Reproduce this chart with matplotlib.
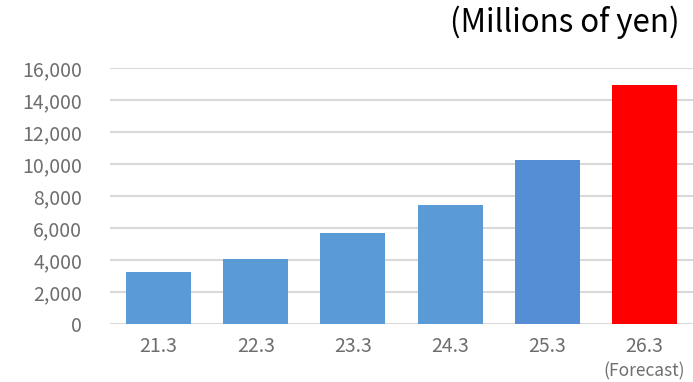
import matplotlib.pyplot as plt

categories = ["21.3", "22.3", "23.3", "24.3", "25.3", "26.3"]
values = [3250, 4050, 5700, 7450, 10250, 14950]
bar_colors = ["#5B9BD5", "#5B9BD5", "#5B9BD5", "#5B9BD5", "#558ED5", "#FF0000"]
y_ticks = [0, 2000, 4000, 6000, 8000, 10000, 12000, 14000, 16000]

plt.rcParams["font.family"] = ["Noto Sans CJK JP", "DejaVu Sans"]

fig = plt.figure(figsize=(6.93, 3.82), dpi=100)
ax = fig.add_axes([110 / 693, 1 - 324 / 382, 583 / 693, 256 / 382])

x = range(len(categories))
ax.bar(x, values, width=0.67, color=bar_colors, zorder=3)

ax.set_xlim(-0.5, len(categories) - 0.5)
ax.set_ylim(0, 16000)
ax.set_yticks(y_ticks)
ax.set_yticklabels([f"{v:,}" for v in y_ticks])
ax.set_xticks(list(x))
ax.set_xticklabels(categories)
ax.tick_params(axis="both", length=0, labelsize=14, labelcolor="#6E6E6E")
ax.tick_params(axis="y", pad=20)
ax.tick_params(axis="x", pad=9)
ax.yaxis.grid(True, color="#D9D9D9", linewidth=1.5, zorder=0)
for s in ax.spines.values():
    s.set_visible(False)

ax.text(5, -0.15, "(Forecast)", transform=ax.get_xaxis_transform(),
        ha="center", va="top", fontsize=12.5, color="#6E6E6E")
fig.text(680 / 693, 1 - 22 / 382, "(Millions of yen)", ha="right", va="center",
         fontsize=22.5, color="#000000")

fig.savefig("out.png", dpi=100)
